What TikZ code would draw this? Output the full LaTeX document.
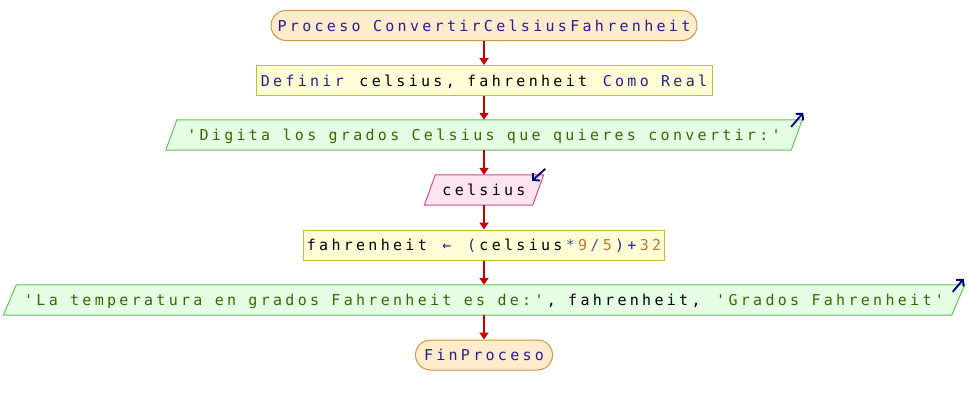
\documentclass[tikz,border=0pt]{standalone}
\usepackage{fontspec}
\newfontfamily\flowfont[LetterSpace=22]{DejaVu Sans Mono}
\usetikzlibrary{arrows.meta,backgrounds,calc}

\definecolor{kw}{RGB}{40,30,140}
\definecolor{strgreen}{RGB}{55,105,0}
\definecolor{numcol}{RGB}{190,120,50}
\definecolor{opcol}{RGB}{80,90,150}
\definecolor{termfill}{RGB}{255,236,204}
\definecolor{termline}{RGB}{210,150,70}
\definecolor{procfill}{RGB}{255,255,215}
\definecolor{procline}{RGB}{200,190,50}
\definecolor{outfill}{RGB}{228,255,228}
\definecolor{outline}{RGB}{100,195,90}
\definecolor{infill}{RGB}{253,228,240}
\definecolor{inline}{RGB}{200,80,130}
\definecolor{flowred}{RGB}{200,0,0}
\definecolor{navy}{RGB}{0,0,128}

% tracking gap restored where a colour change splits a text run
\newcommand\ls{\kern3.3pt}

\tikzset{
  box/.style={rectangle, minimum height=30pt, inner sep=0pt,
    font=\flowfont\fontsize{15}{17}\selectfont, text height=12.5pt, text depth=1.5pt},
  terminal/.style={box, draw=termline, fill=termfill, rounded corners=15pt,
    line width=1pt, text=kw},
  proc/.style={box, draw=procline, fill=procfill, line width=1pt},
  iotext/.style={box},
  outframe/.style={draw=outline, fill=outfill, line width=1pt},
  inframe/.style={draw=inline, fill=infill, line width=1pt},
  flow/.style={draw=flowred, line width=2.4pt, -{Triangle[width=9pt,length=7pt]}},
  ioicon/.style={draw=navy, line width=1.9pt, -{Straight Barb[length=4.5pt,width=10pt]}},
}

% slanted input/output frame drawn behind a text node
\newcommand\slantframe[3]{%
  \begin{pgfonlayer}{background}
    \path[#3] ($(#1.south west)+(-#2,0)$) -- ($(#1.south east)+(-#2,0)$)
      -- ($(#1.north east)+(#2,0)$) -- ($(#1.north west)+(#2,0)$) -- cycle;
  \end{pgfonlayer}}

\begin{document}
\begin{tikzpicture}[x=1pt,y=-1pt]
  \useasboundingbox (0,0) rectangle (968,405);

  \node[terminal, minimum width=426pt] (start) at (484,25.5)
    {Proceso ConvertirCelsiusFahrenheit};

  \node[proc, minimum width=456pt] (def) at (484,80.5)
    {\textcolor{kw}{Definir}\ls{} celsius, fahrenheit \ls\textcolor{kw}{Como Real}};

  \node[iotext, minimum width=625pt, text=strgreen] (out1) at (484,135)
    {'Digita los grados Celsius que quieres convertir:'};
  \slantframe{out1}{5.5}{outframe}

  \node[iotext, minimum width=108pt] (in1) at (484,190) {celsius};
  \slantframe{in1}{5.5}{inframe}

  \node[proc, minimum width=361pt] (calc) at (484,245)
    {fahrenheit \ls\textcolor{kw}{←}\ls{} \textcolor{kw}{(}\ls{}celsius\ls\textcolor{opcol}{*}\ls\textcolor{numcol}{9}\ls\textcolor{opcol}{/}\ls\textcolor{numcol}{5}\ls\textcolor{kw}{)+}\ls\textcolor{numcol}{32}};

  \node[iotext, minimum width=948pt] (out2) at (484,300)
    {\textcolor{strgreen}{'La temperatura en grados Fahrenheit es de:'}\ls{}, fahrenheit, \ls\textcolor{strgreen}{'Grados Fahrenheit'}};
  \slantframe{out2}{6.5}{outframe}

  \node[terminal, minimum width=137pt] (end) at (484,355) {FinProceso};

  % flow connectors
  \draw[flow] (start) -- (def);
  \draw[flow] (def) -- (out1);
  \draw[flow] (out1) -- (in1);
  \draw[flow] (in1) -- (calc);
  \draw[flow] (calc) -- (out2);
  \draw[flow] (out2) -- (end);

  % read / write markers
  \draw[ioicon] ($(out1.north east)+(-5.5,7)$) -- ($(out1.north east)+(6.5,-7)$);
  \draw[ioicon] ($(in1.north east)+(7,-6)$) -- ($(in1.north east)+(-6,6)$);
  \draw[ioicon] ($(out2.north east)+(-5.5,7)$) -- ($(out2.north east)+(5.5,-6)$);
\end{tikzpicture}
\end{document}
